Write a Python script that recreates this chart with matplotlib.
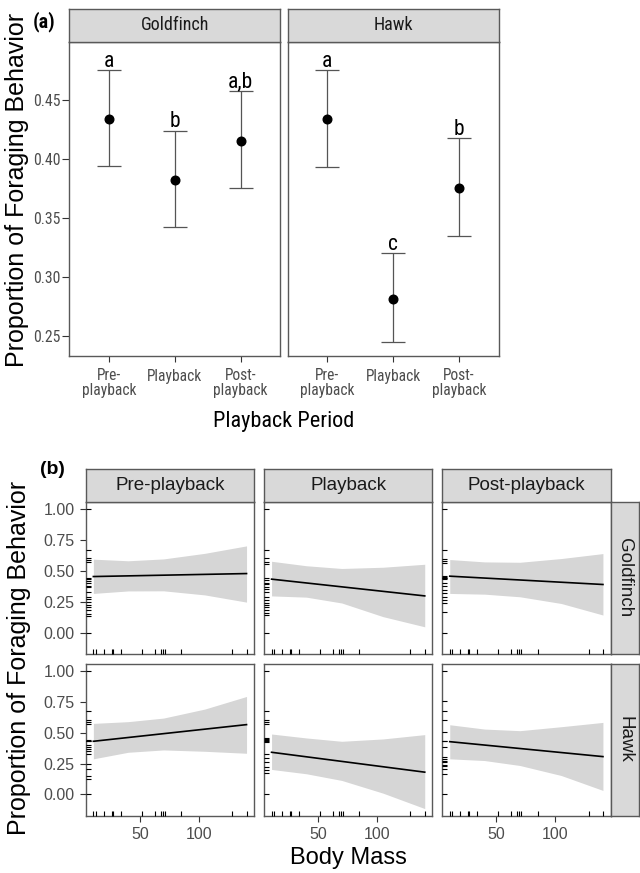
import matplotlib
matplotlib.use("Agg")
import matplotlib.pyplot as plt
import matplotlib.transforms as mtransforms
from matplotlib import font_manager as fm
import numpy as np

# ---------------- data: panel (a) ----------------
periods = ["Pre-playback", "Playback", "Post-playback"]
period_ticklabels = ["Pre-\nplayback", "Playback", "Post-\nplayback"]
treatments = ["Goldfinch", "Hawk"]
gold_mean = [0.434, 0.382, 0.415]
gold_lo = [0.394, 0.342, 0.375]
gold_hi = [0.475, 0.424, 0.458]
gold_letters = ["a", "b", "a,b"]
hawk_mean = [0.434, 0.281, 0.375]
hawk_lo = [0.393, 0.245, 0.335]
hawk_hi = [0.475, 0.320, 0.4175]
hawk_letters = ["a", "c", "b"]

# ---------------- data: panel (b) ----------------
fit_x = [10.5, 140.4]
ribbon_x = [10.5, 40, 70, 105, 140.4]
body_mass_rug = [10.5, 12.5, 19.5, 26, 27, 33.6, 51.4, 62.5, 67.5, 69.2, 70.9, 85.0, 128.3, 140.4]

gold_pre_fit = [0.453, 0.477]
gold_pre_hi = [0.593, 0.580, 0.595, 0.640, 0.700]
gold_pre_lo = [0.317, 0.337, 0.338, 0.305, 0.247]
gold_pre_rug = [1.0, 0.67, 0.60, 0.585, 0.57, 0.445, 0.43, 0.415, 0.40, 0.38, 0.365,
                0.33, 0.29, 0.27, 0.25, 0.225, 0.205, 0.18, 0.155, 0.135, 0.0]

gold_play_fit = [0.432, 0.297]
gold_play_hi = [0.576, 0.540, 0.518, 0.528, 0.552]
gold_play_lo = [0.297, 0.287, 0.240, 0.130, 0.048]
gold_play_rug = [1.0, 0.67, 0.605, 0.57, 0.557, 0.445, 0.424, 0.405, 0.39, 0.37, 0.355,
                 0.33, 0.29, 0.263, 0.242, 0.223, 0.204, 0.183, 0.161, 0.14, 0.0]

gold_post_fit = [0.456, 0.389]
gold_post_hi = [0.590, 0.571, 0.568, 0.598, 0.638]
gold_post_lo = [0.317, 0.311, 0.290, 0.236, 0.143]
gold_post_rug = [1.0, 0.67, 0.598, 0.58, 0.563, 0.455, 0.45, 0.445, 0.44, 0.435, 0.402,
                 0.375, 0.343, 0.317, 0.29, 0.263, 0.236, 0.169, 0.0]

hawk_pre_fit = [0.430, 0.565]
hawk_pre_hi = [0.575, 0.589, 0.618, 0.691, 0.793]
hawk_pre_lo = [0.288, 0.341, 0.360, 0.349, 0.333]
hawk_pre_rug = [1.0, 0.672, 0.602, 0.583, 0.57, 0.441, 0.436, 0.431, 0.403, 0.387, 0.368,
                0.349, 0.328, 0.247, 0.207, 0.145, 0.126, 0.0]

hawk_play_fit = [0.341, 0.180]
hawk_play_hi = [0.489, 0.457, 0.430, 0.449, 0.484]
hawk_play_lo = [0.202, 0.167, 0.113, 0.010, -0.115]
hawk_play_rug = [1.0, 0.672, 0.602, 0.583, 0.57, 0.454, 0.447, 0.44, 0.432, 0.425, 0.328,
                 0.296, 0.261, 0.22, 0.194, 0.172, 0.0]

hawk_post_fit = [0.427, 0.306]
hawk_post_hi = [0.564, 0.529, 0.516, 0.548, 0.583]
hawk_post_lo = [0.288, 0.274, 0.234, 0.153, 0.032]
hawk_post_rug = [1.0, 0.753, 0.672, 0.602, 0.503, 0.435, 0.43, 0.387, 0.301, 0.288, 0.274,
                 0.261, 0.242, 0.226, 0.207, 0.167, 0.0]

body_ticks = [50, 100]
prop_ticks = [0.0, 0.25, 0.5, 0.75, 1.0]
prop_ticklabels = ["0.00", "0.25", "0.50", "0.75", "1.00"]
a_ticks = [0.25, 0.30, 0.35, 0.40, 0.45]

# ---------------- fonts ----------------
names = {f.name for f in fm.fontManager.ttflist}


def pick(cands, default="DejaVu Sans"):
    for c in cands:
        if c in names:
            return c
    return default


REG = pick(["Arimo", "Liberation Sans", "Helvetica", "Arial"])
NARROW = pick(["Liberation Sans Narrow", "Arial Narrow", "Roboto Condensed", "Archivo Narrow",
               "PT Sans Narrow", "Asap Condensed"], REG)
plt.rcParams["font.family"] = [REG, "DejaVu Sans"]

W, H = 640, 873
fig = plt.figure(figsize=(W / 100, H / 100), dpi=100)

BORDER = "#595959"
STRIP = "#D9D9D9"
TICKTXT = "#4D4D4D"


def px_axes(x0, y0, x1, y1):
    return fig.add_axes([x0 / W, 1 - y1 / H, (x1 - x0) / W, (y1 - y0) / H])


def style_spines(ax):
    for s in ax.spines.values():
        s.set_color(BORDER)
        s.set_linewidth(1.0)


def strip(x0, y0, x1, y1, label, family, size, rot=0):
    sa = px_axes(x0, y0, x1, y1)
    sa.set_facecolor(STRIP)
    sa.set_xticks([])
    sa.set_yticks([])
    style_spines(sa)
    sa.text(0.5, 0.5, label, transform=sa.transAxes, ha="center", va="center",
            rotation=rot, fontsize=size, color="#1A1A1A", family=family)
    return sa


# ---------------- panel (a) ----------------
a_left = [69.3, 287.7]
a_w = 211.0
a_top, a_bot, a_strip_top = 41.7, 356.0, 9.3
xcat = np.arange(1, len(periods) + 1)
a_data = [(gold_mean, gold_lo, gold_hi, gold_letters), (hawk_mean, hawk_lo, hawk_hi, hawk_letters)]

for k, (name, (mean, lo, hi, letters)) in enumerate(zip(treatments, a_data)):
    x0 = a_left[k]
    ax = px_axes(x0, a_top, x0 + a_w, a_bot)
    mean = np.array(mean); lo = np.array(lo); hi = np.array(hi)
    ax.errorbar(xcat, mean, yerr=[mean - lo, hi - mean], fmt="none", ecolor="#555555",
                elinewidth=0.9, capsize=8.4, capthick=0.9, zorder=2)
    ax.plot(xcat, mean, "o", color="black", markersize=6.2, zorder=3)
    for xi, h, lab in zip(xcat, hi, letters):
        ax.text(xi, h + 0.0028, lab, ha="center", va="baseline", fontsize=15.5,
                family=NARROW, color="black")
    ax.set_xlim(0.4, 3.6)
    ax.set_ylim(0.233, 0.4994)
    ax.set_xticks(xcat)
    ax.set_xticklabels(period_ticklabels, family=NARROW, fontsize=11.2, color=TICKTXT,
                       linespacing=1.0)
    ax.set_yticks(a_ticks)
    if k == 0:
        ax.set_yticklabels([f"{t:.2f}" for t in a_ticks], family=NARROW, fontsize=11.3,
                           color=TICKTXT)
        ax.tick_params(axis="y", length=5, width=0.8, color="#333333", pad=1.5)
    else:
        ax.set_yticklabels([])
        ax.tick_params(axis="y", length=0)
    ax.tick_params(axis="x", length=4, width=0.8, color="#333333", pad=5)
    style_spines(ax)
    strip(x0, a_strip_top, x0 + a_w, a_top, name, NARROW, 13)

fig.text(33 / W, 1 - 11 / H, "(a)", ha="left", va="top", fontsize=14.5, fontweight="bold",
         family=NARROW)
fig.text((a_left[0] + a_left[1] + a_w) / 2 / W, 1 - 421.5 / H, "Playback Period",
         ha="center", va="center", fontsize=16, family=NARROW)
fig.text(17.5 / W, 1 - 190 / H, "Proportion of Foraging Behavior", rotation=90,
         ha="center", va="center", fontsize=18)

# ---------------- panel (b) ----------------
b_left0, b_w, b_gap = 85.7, 168.5, 9.7
b_strip_top, b_strip_bot = 469.3, 501.7
rows_y = [(501.7, 654.0), (664.0, 815.5)]
b_data = {
    ("Goldfinch", 0): (gold_pre_fit, gold_pre_lo, gold_pre_hi, gold_pre_rug),
    ("Goldfinch", 1): (gold_play_fit, gold_play_lo, gold_play_hi, gold_play_rug),
    ("Goldfinch", 2): (gold_post_fit, gold_post_lo, gold_post_hi, gold_post_rug),
    ("Hawk", 0): (hawk_pre_fit, hawk_pre_lo, hawk_pre_hi, hawk_pre_rug),
    ("Hawk", 1): (hawk_play_fit, hawk_play_lo, hawk_play_hi, hawk_play_rug),
    ("Hawk", 2): (hawk_post_fit, hawk_post_lo, hawk_post_hi, hawk_post_rug),
}

for r, tname in enumerate(treatments):
    y0, y1 = rows_y[r]
    for c, pname in enumerate(periods):
        x0 = b_left0 + c * (b_w + b_gap)
        ax = px_axes(x0, y0, x0 + b_w, y1)
        fit, lo, hi, rug = b_data[(tname, c)]
        ax.fill_between(ribbon_x, lo, hi, color="#D6D6D6", linewidth=0, zorder=1)
        ax.plot(fit_x, fit, color="black", lw=1.2, zorder=3)
        tx = mtransforms.blended_transform_factory(ax.transAxes, ax.transData)
        for v in rug:
            ax.plot([0, 0.03], [v, v], transform=tx, color="black", lw=0.8,
                    solid_capstyle="butt", zorder=4, clip_on=False)
        ty = mtransforms.blended_transform_factory(ax.transData, ax.transAxes)
        for m in body_mass_rug:
            ax.plot([m, m], [0, 0.03], transform=ty, color="black", lw=0.8,
                    solid_capstyle="butt", zorder=4, clip_on=False)
        ax.set_xlim(4.0, 146.9)
        ax.set_ylim(-0.171, 1.056)
        ax.set_yticks(prop_ticks)
        ax.set_xticks(body_ticks)
        if c == 0:
            ax.set_yticklabels(prop_ticklabels, fontsize=11.5, color=TICKTXT)
            ax.tick_params(axis="y", length=4, width=0.8, color="#333333", pad=4)
        else:
            ax.tick_params(axis="y", length=0, labelleft=False)
        if r == 1:
            ax.set_xticklabels([str(t) for t in body_ticks], fontsize=11.5, color=TICKTXT)
            ax.tick_params(axis="x", length=4, width=0.8, color="#333333", pad=4)
        else:
            ax.tick_params(axis="x", length=0, labelbottom=False)
        style_spines(ax)
        if r == 0:
            strip(x0, b_strip_top, x0 + b_w, b_strip_bot, pname, REG, 13.5)
    right_x0 = b_left0 + 3 * b_w + 2 * b_gap
    strip(right_x0, y0, 639.0, y1, tname, REG, 13.5, rot=270)

fig.text(40 / W, 1 - 461 / H, "(b)", ha="left", va="top", fontsize=14, fontweight="bold")
fig.text((b_left0 + 3 * b_w + 2 * b_gap + b_left0) / 2 / W, 1 - 858 / H, "Body Mass",
         ha="center", va="center", fontsize=17)
fig.text(19.5 / W, 1 - 658 / H, "Proportion of Foraging Behavior", rotation=90,
         ha="center", va="center", fontsize=18)

fig.savefig("out.png", dpi=100, facecolor="white")
